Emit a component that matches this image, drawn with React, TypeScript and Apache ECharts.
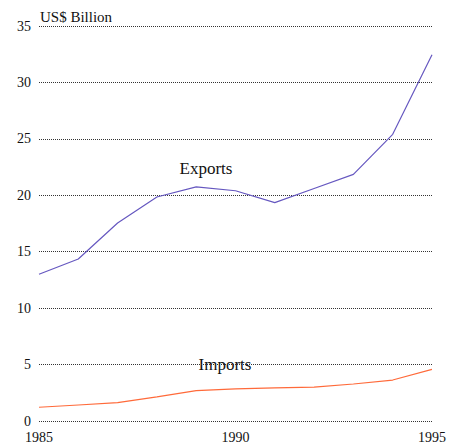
import React, { useEffect, useRef } from "react";
import * as echarts from "echarts";

const years = [1985, 1986, 1987, 1988, 1989, 1990, 1991, 1992, 1993, 1994, 1995];
const exportsValues = [13.0, 14.35, 17.55, 19.85, 20.75, 20.4, 19.35, 20.6, 21.85, 25.4, 32.45];
const importsValues = [1.22, 1.42, 1.63, 2.13, 2.69, 2.84, 2.93, 3.01, 3.28, 3.63, 4.58];
const yTicks = { min: 0, max: 35, interval: 5 };
const xTicks = { min: 1985, max: 1995, interval: 5 };
const unitLabel = "US$ Billion";
const seriesNames = ["Exports", "Imports"];

const FONT = "Liberation Serif";

export default function App() {
  const ref = useRef<HTMLDivElement>(null);
  useEffect(() => {
    if (!ref.current) return;
    const chart = echarts.init(ref.current, undefined, { renderer: "svg" });
    chart.setOption({
      animation: false,
      backgroundColor: "#ffffff",
      grid: { left: 39, right: 14, top: 26, bottom: 24, containLabel: false },
      xAxis: {
        type: "value",
        min: xTicks.min,
        max: xTicks.max,
        interval: xTicks.interval,
        axisLine: { show: false },
        axisTick: { show: false },
        splitLine: { show: false },
        axisLabel: { color: "#111", fontFamily: FONT, fontSize: 14, margin: 9, formatter: (v: number) => String(v) },
      },
      yAxis: {
        type: "value",
        min: yTicks.min,
        max: yTicks.max,
        interval: yTicks.interval,
        axisLine: { show: false },
        axisTick: { show: false },
        splitLine: { show: true, lineStyle: { color: "#333", width: 1, type: [1, 1] } },
        axisLabel: { color: "#111", fontFamily: FONT, fontSize: 14, margin: 8, padding: [6, 0, 0, 0] },
      },
      series: [
        {
          name: seriesNames[0],
          type: "line",
          data: years.map((y, i) => [y, exportsValues[i]]),
          symbol: "none",
          lineStyle: { color: "#6658c0", width: 1.2 },
        },
        {
          name: seriesNames[1],
          type: "line",
          data: years.map((y, i) => [y, importsValues[i]]),
          symbol: "none",
          lineStyle: { color: "#ff6a3a", width: 1.2 },
        },
      ],
      graphic: [
        {
          type: "text",
          left: 40,
          top: 9,
          style: { text: unitLabel, fontFamily: FONT, fontSize: 15, fill: "#111" },
        },
        {
          type: "text",
          x: 206,
          y: 168,
          style: { text: seriesNames[0], fontFamily: FONT, fontSize: 17, fill: "#111", align: "center", verticalAlign: "middle" },
        },
        {
          type: "text",
          x: 225,
          y: 364,
          style: { text: seriesNames[1], fontFamily: FONT, fontSize: 17, fill: "#111", align: "center", verticalAlign: "middle" },
        },
      ],
    });
    return () => chart.dispose();
  }, []);
  return <div ref={ref} style={{ position: "absolute", left: 0, top: 0, width: 449, height: 445 }} />;
}
